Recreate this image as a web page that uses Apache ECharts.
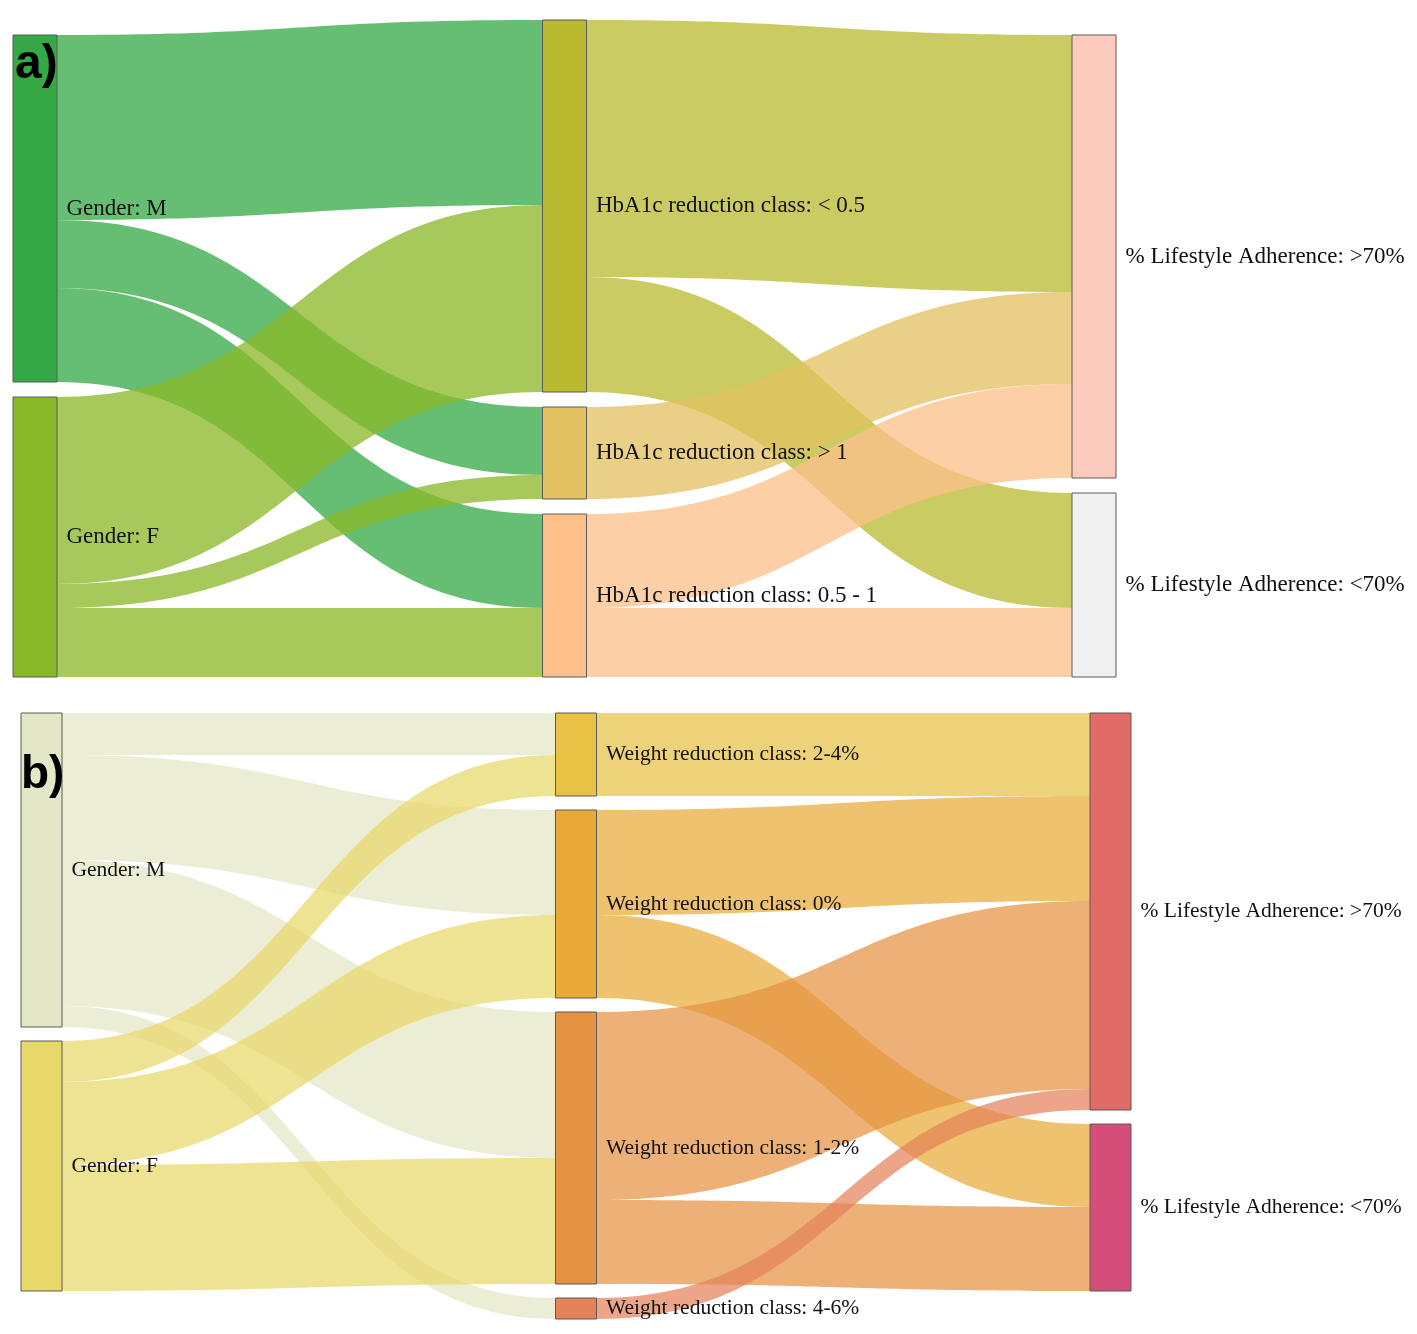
<!DOCTYPE html>
<html lang="en">
<head>
    <meta charset="UTF-8">
    <title>Sankey</title>
    <style>
        html, body { margin: 0; padding: 0; background: #fff; }
    </style>
</head>
<body>
<script src="https://cdn.jsdelivr.net/npm/echarts@6/dist/echarts.min.js"></script>
<div id="main" style="width:1417px;height:1334px;"></div>

<script type="text/javascript">
    // panel a) gender -> HbA1c reduction -> lifestyle adherence
    var nodesA = ['Gender: M', 'Gender: F',
        'HbA1c reduction class: < 0.5', 'HbA1c reduction class: > 1', 'HbA1c reduction class: 0.5 - 1',
        '% Lifestyle Adherence: >70%', '% Lifestyle Adherence: <70%'];
    var linkSourceA = [0, 0, 0, 1, 1, 1, 2, 2, 3, 4, 4];
    var linkTargetA = [2, 3, 4, 2, 3, 4, 5, 6, 5, 5, 6];
    var linkValueA = [185, 68, 94, 187, 24, 69, 257, 115, 92, 94, 69];

    // panel b) gender -> weight reduction -> lifestyle adherence
    var nodesB = ['Gender: M', 'Gender: F',
        'Weight reduction class: 2-4%', 'Weight reduction class: 0%',
        'Weight reduction class: 1-2%', 'Weight reduction class: 4-6%',
        '% Lifestyle Adherence: >70%', '% Lifestyle Adherence: <70%'];
    var linkSourceB = [0, 0, 0, 0, 1, 1, 1, 2, 3, 3, 4, 4, 5];
    var linkTargetB = [2, 3, 4, 5, 2, 3, 4, 6, 6, 7, 6, 7, 6];
    var linkValueB = [42, 105, 146, 21, 41, 83, 126, 83, 105, 83, 188, 84, 21];

    var colorsA = ['#36a947', '#8bb829', '#b9ba30', '#e2c160', '#fdc08b', '#fdcbbd', '#f0f0f0'];
    var colorsB = ['#e3e7c5', '#e8d86a', '#e8c145', '#e8aa36', '#e69243', '#e4825a', '#e06b67', '#d54e79'];

    function buildNodes(names, colors) {
        return names.map(function (name, i) {
            return {name: name, itemStyle: {color: colors[i]}};
        });
    }

    function buildLinks(names, src, tgt, val) {
        return val.map(function (v, i) {
            return {source: names[src[i]], target: names[tgt[i]], value: v};
        });
    }

    function sankeySeries(names, colors, src, tgt, val, pos) {
        return {
            type: 'sankey',
            left: pos.left,
            top: pos.top,
            width: pos.width,
            height: pos.height,
            nodeWidth: pos.nodeWidth,
            nodeGap: pos.nodeGap,
            layoutIterations: pos.iterations,
            draggable: false,
            emphasis: {disabled: true},
            itemStyle: {borderColor: '#5a5a5a', borderWidth: 1},
            lineStyle: {color: 'source', opacity: pos.opacity, curveness: 0.5},
            label: {
                position: 'right',
                distance: 9,
                color: '#111',
                fontFamily: 'Liberation Serif',
                fontSize: pos.fontSize
            },
            data: buildNodes(names, colors),
            links: buildLinks(names, src, tgt, val)
        };
    }

    var myChart = echarts.init(document.getElementById('main'));

    var option = {
        backgroundColor: '#fff',
        animation: false,
        title: [
            {
                text: 'a)', left: 15, top: 41, padding: 0,
                textStyle: {fontFamily: 'Liberation Sans', fontWeight: 'bold', fontSize: 48, color: '#000'}
            },
            {
                text: 'b)', left: 21, top: 752, padding: 0,
                textStyle: {fontFamily: 'Liberation Sans', fontWeight: 'bold', fontSize: 46, color: '#000'}
            }
        ],
        series: [
            sankeySeries(nodesA, colorsA, linkSourceA, linkTargetA, linkValueA,
                {left: 13, top: 20, width: 1103, height: 657, nodeWidth: 44, nodeGap: 15,
                    iterations: 1, fontSize: 23, opacity: 0.76}),
            sankeySeries(nodesB, colorsB, linkSourceB, linkTargetB, linkValueB,
                {left: 21, top: 713, width: 1110, height: 606, nodeWidth: 41, nodeGap: 14,
                    iterations: 0, fontSize: 21.5, opacity: 0.72})
        ]
    };
    myChart.setOption(option);
</script>
</body>
</html>
